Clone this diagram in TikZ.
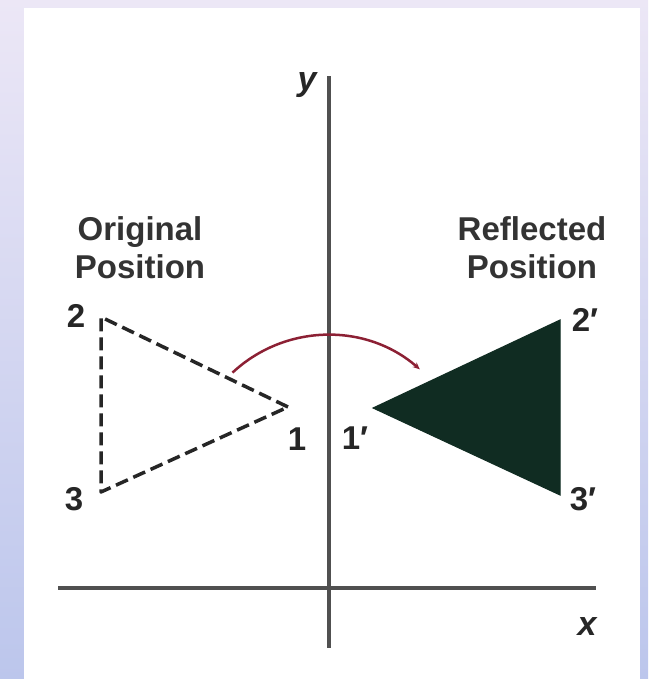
\documentclass[tikz,border=0pt]{standalone}
\usepackage{fontspec}
\setmainfont{Liberation Sans}
\usetikzlibrary{arrows.meta}
\definecolor{axisgray}{RGB}{80,80,80}
\definecolor{darkfill}{RGB}{16,44,34}
\definecolor{arcred}{RGB}{140,32,52}
\definecolor{bgtop}{RGB}{236,231,246}
\definecolor{bgbot}{RGB}{188,198,236}
\tikzset{
  lbl/.style={font=\fontsize{33}{38}\selectfont\bfseries, inner sep=0pt, text=black!85},
  captext/.style={font=\fontsize{33}{38}\selectfont\bfseries, inner sep=0pt, align=center, text=black!80},
  axlbl/.style={font=\fontsize{34}{40}\selectfont\bfseries\itshape, inner sep=0pt, text=black!85},
  axisline/.style={draw=axisgray, line width=3.2pt},
  dashtri/.style={draw=black!85, line width=3.5pt, dash pattern=on 13pt off 6pt, line join=round},
  filltri/.style={fill=darkfill, draw=darkfill, line width=1pt, line join=miter},
  arcarrow/.style={draw=arcred, line width=2.5pt, -{Stealth[length=7pt,width=6pt]}}
}
\begin{document}
\begin{tikzpicture}[x=1pt,y=1pt]
\useasboundingbox (0,0) rectangle (648,679);
\shade[top color=bgtop, bottom color=bgbot] (0,0) rectangle (648,679);
\fill[white] (24,0) rectangle (640,671);
% axes
\coordinate (ytop) at (329,603);
\coordinate (ybot) at (329,31);
\coordinate (xl) at (58,91);
\coordinate (xr) at (596,91);
\draw[axisline] (ybot) -- (ytop);
\draw[axisline] (xl) -- (xr);
\node[axlbl] (ylab) at (307,594) {y};
\node[axlbl] (xlab) at (587,52) {x};
% original triangle
\coordinate (p1) at (288,272);
\coordinate (p2) at (101,362);
\coordinate (p3) at (101,187);
\draw[dashtri] (p1) -- (p2) -- (p3) -- cycle;
% reflected triangle
\coordinate (q1) at (373,271);
\coordinate (q2) at (560,359);
\coordinate (q3) at (560,184);
\filldraw[filltri] (q1) -- (q2) -- (q3) -- cycle;
% labels
\node[lbl] (l2) at (76,363) {2};
\node[lbl] (l3) at (74,180) {3};
\node[lbl] (l1) at (297,240) {1};
\node[lbl] (m1) at (355,241) {1\char"2032};
\node[lbl] (m2) at (585,359) {2\char"2032};
\node[lbl] (m3) at (583,180) {3\char"2032};
\node[captext] (orig) at (140,431) {Original\\Position};
\node[captext] (refl) at (532,431) {Reflected\\Position};
% arc
\coordinate (acentre) at (328,204);
\draw[arcarrow] ([shift={(133:140)}]acentre) arc[start angle=133, end angle=49, radius=140];
\end{tikzpicture}
\end{document}
